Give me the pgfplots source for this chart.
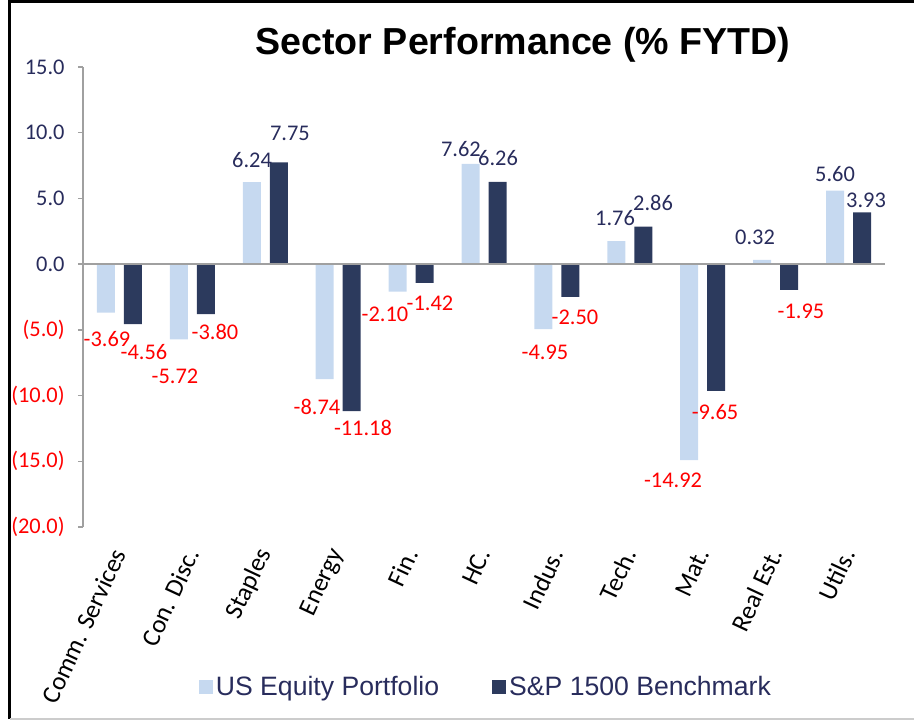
\documentclass[border=0pt]{standalone}
\usepackage{pgfplots}
\pgfplotsset{compat=1.18}
\usepackage{fontspec}
\setmainfont{Carlito}
\newfontfamily\arial{Liberation Sans}
\definecolor{lightbar}{RGB}{198,217,240}
\definecolor{darkbar}{RGB}{44,58,93}
\definecolor{navy}{RGB}{40,44,92}
\definecolor{axgray}{RGB}{160,160,160}
\tikzset{lbl/.style={font=\fontsize{11.2}{13}\selectfont, inner sep=0pt}}
\begin{document}
\begin{tikzpicture}
\useasboundingbox (-41.5pt,-97pt) rectangle (415.5pt,263.5pt);
\begin{axis}[
  at={(0,0)}, anchor=south west,
  scale only axis, width=401pt, height=230pt,
  ybar=4.5pt, bar width=9pt,
  xmin=-0.5, xmax=10.5, ymin=-20, ymax=15,
  axis y line*=left, axis x line*=bottom,
  x axis line style={draw=none},
  y axis line style={axgray, line width=0.75pt, -},
  xtick={0,...,10},
  xticklabels={Comm. Services, Con. Disc., Staples, Energy, Fin., HC., Indus., Tech., Mat., Real Est., Utils.},
  x tick style={draw=none},
  xticklabel style={yshift=-9pt, rotate=65, anchor=east, font=\fontsize{12.8}{14}\selectfont, inner sep=0pt},
  ytick={-20,-15,...,15},
  yticklabels={{\color{red}(20.0)},{\color{red}(15.0)},{\color{red}(10.0)},{\color{red}(5.0)},{\color{navy}0.0},{\color{navy}5.0},{\color{navy}10.0},{\color{navy}15.0}},
  y tick style={axgray, line width=0.75pt},
  tick align=outside, major tick length=2.5pt,
  yticklabel style={font=\fontsize{11.2}{13}\selectfont, inner sep=0pt, xshift=-6.5pt},
  legend style={at={(0.503,-0.348)}, anchor=center, draw=none, fill=none,
    legend columns=2, text=navy, font=\arial\fontsize{13.3}{15}\selectfont,
    nodes={inner sep=1.5pt},
    /tikz/every even column/.append style={column sep=25pt}},
  legend image code/.code={\fill[#1] (0pt,-3.5pt) rectangle (7pt,3.5pt);},
]
\addplot[fill=lightbar, draw=none] coordinates {
  (0,-3.69) (1,-5.72) (2,6.24) (3,-8.74) (4,-2.10) (5,7.62)
  (6,-4.95) (7,1.76) (8,-14.92) (9,0.32) (10,5.60)
};
\addlegendentry{US Equity Portfolio}
\addplot[fill=darkbar, draw=none] coordinates {
  (0,-4.56) (1,-3.80) (2,7.75) (3,-11.18) (4,-1.42) (5,6.26)
  (6,-2.50) (7,2.86) (8,-9.65) (9,-1.95) (10,3.93)
};
\addlegendentry{S\&P 1500 Benchmark}
\draw[axgray, line width=0.75pt] (axis cs:-0.5,0) -- (axis cs:10.5,0);
% data labels, placed as in the reference
\node[lbl, red] at (axis cs:-0.171,-5.71) {-3.69};
\node[lbl, red] at (axis cs:0.336,-6.70) {-4.56};
\node[lbl, red] at (axis cs:0.761,-8.52) {-5.72};
\node[lbl, red] at (axis cs:1.310,-5.17) {-3.80};
\node[lbl, navy] at (axis cs:1.818,7.91) {6.24};
\node[lbl, navy] at (axis cs:2.339,9.97) {7.75};
\node[lbl, red] at (axis cs:2.709,-10.88) {-8.74};
\node[lbl, red] at (axis cs:3.340,-12.48) {-11.18};
\node[lbl, red] at (axis cs:3.642,-3.80) {-2.10};
\node[lbl, red] at (axis cs:4.259,-2.97) {-1.42};
\node[lbl, navy] at (axis cs:4.684,8.75) {7.62};
\node[lbl, navy] at (axis cs:5.192,8.07) {6.26};
\node[lbl, red] at (axis cs:5.837,-6.70) {-4.95};
\node[lbl, red] at (axis cs:6.248,-4.03) {-2.50};
\node[lbl, navy] at (axis cs:6.797,3.50) {1.76};
\node[lbl, navy] at (axis cs:7.318,4.64) {2.86};
\node[lbl, red] at (axis cs:7.593,-16.43) {-14.92};
\node[lbl, red] at (axis cs:8.169,-11.26) {-9.65};
\node[lbl, navy] at (axis cs:8.717,2.05) {0.32};
\node[lbl, red] at (axis cs:9.348,-3.58) {-1.95};
\node[lbl, navy] at (axis cs:9.815,6.85) {5.60};
\node[lbl, navy] at (axis cs:10.240,4.87) {3.93};
\end{axis}
\node[anchor=base, font=\arial\bfseries\fontsize{18.8}{22}\selectfont] at (220pt,236pt) {Sector Performance (\% FYTD)};
\draw[black, line width=1.5pt] (-36.5pt,-96pt) -- (-36.5pt,262.75pt) -- (415.5pt,262.75pt);
\draw[gray!40, line width=0.75pt] (-36.5pt,-96pt) -- (415.5pt,-96pt);
\end{tikzpicture}
\end{document}
